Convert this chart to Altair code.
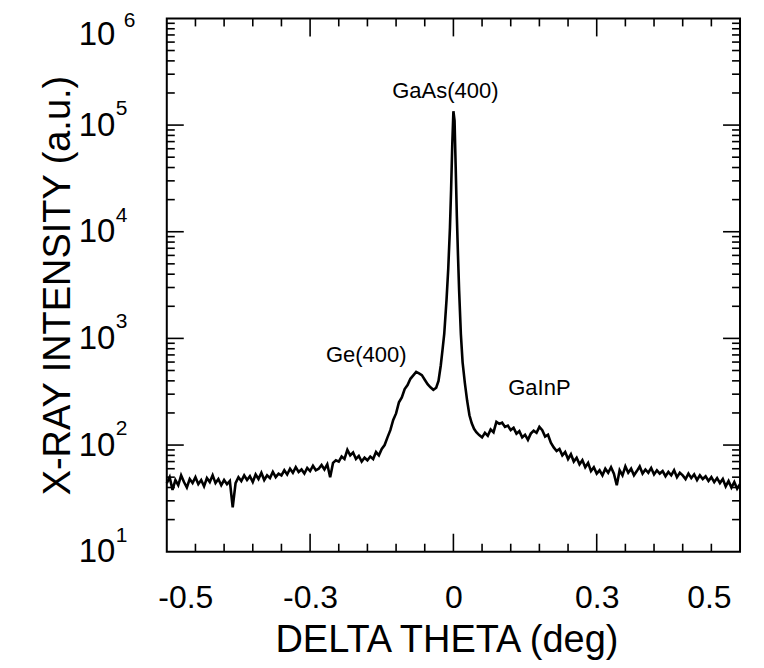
import altair as alt
import pandas as pd

# ---------------- data ----------------
theta = [
    -0.500, -0.495, -0.490, -0.485, -0.480, -0.475, -0.470, -0.465, -0.460, -0.455,
    -0.450, -0.445, -0.440, -0.435, -0.430, -0.425, -0.420, -0.415, -0.410, -0.405,
    -0.400, -0.395, -0.390, -0.385, -0.380, -0.375, -0.370, -0.365, -0.360, -0.355,
    -0.350, -0.345, -0.340, -0.335, -0.330, -0.325, -0.320, -0.315, -0.310, -0.305,
    -0.300, -0.295, -0.290, -0.285, -0.280, -0.275, -0.270, -0.265, -0.260, -0.255,
    -0.250, -0.245, -0.240, -0.235, -0.230, -0.225, -0.220, -0.215, -0.210, -0.205,
    -0.200, -0.195, -0.190, -0.185, -0.180, -0.175, -0.170, -0.165, -0.160, -0.155,
    -0.150, -0.145, -0.140, -0.135, -0.130,
    -0.125, -0.120, -0.115, -0.110, -0.105, -0.100, -0.095, -0.090, -0.085, -0.080,
    -0.075, -0.070, -0.065, -0.060, -0.055, -0.050, -0.045, -0.040, -0.035, -0.030,
    -0.026, -0.022, -0.019, -0.016, -0.012, -0.009, -0.006, -0.004, -0.002, 0.000,
    0.002, 0.004, 0.006, 0.008, 0.010, 0.013, 0.016, 0.020, 0.024, 0.028,
    0.032, 0.036, 0.040, 0.045, 0.050,
    0.055, 0.060, 0.065, 0.070, 0.075, 0.080, 0.085, 0.090, 0.095, 0.100,
    0.105, 0.110, 0.115, 0.120, 0.125, 0.130, 0.135, 0.140, 0.145, 0.150,
    0.155, 0.160, 0.165, 0.170, 0.175, 0.180, 0.185, 0.190, 0.195, 0.200,
    0.205, 0.210, 0.215, 0.220, 0.225, 0.230, 0.235, 0.240, 0.245, 0.250,
    0.255, 0.260, 0.265, 0.270, 0.275, 0.280, 0.285, 0.290, 0.295, 0.300,
    0.305, 0.310, 0.315, 0.320, 0.325, 0.330, 0.335, 0.340, 0.345, 0.350,
    0.355, 0.360, 0.365, 0.370, 0.375, 0.380, 0.385, 0.390, 0.395, 0.400,
    0.405, 0.410, 0.415, 0.420, 0.425, 0.430, 0.435, 0.440, 0.445, 0.450,
    0.455, 0.460, 0.465, 0.470, 0.475, 0.480, 0.485, 0.490, 0.495, 0.500,
]
intensity = [
    44, 50, 38, 47, 42, 52, 45, 40, 48, 44,
    50, 43, 47, 41, 49, 45, 52, 44, 48, 42,
    47, 43, 46, 26, 44, 50, 46, 52, 47, 51,
    45, 53, 48, 55, 47, 52, 49, 56, 50, 54,
    52, 58, 53, 60, 55, 62, 56, 59, 54, 61,
    57, 64, 58, 60, 65, 59, 66, 50, 68, 72,
    70, 78, 74, 90, 80, 85, 74, 79, 70, 76,
    72, 78, 74, 86, 80,
    92, 100, 118, 138, 172, 198, 252, 280, 335, 365,
    418, 450, 485, 470, 452, 410, 372, 348, 330, 345,
    400, 560, 780, 1100, 2300, 4500, 11000, 25000, 65000, 135000,
    110000, 40000, 14000, 6000, 2800, 1100, 600, 380, 260, 190,
    160, 142, 132, 124, 118,
    130, 122, 140, 132, 165, 158, 162, 148, 152, 138,
    145, 128, 135, 118, 125, 112, 128, 136, 130, 148,
    138, 120, 125, 105, 95, 88, 92, 80, 86, 74,
    82, 70, 76, 66, 72, 62, 68, 57, 62, 54,
    58, 52, 60, 55, 62, 54, 42, 58, 52, 63,
    55, 60, 52, 57, 63, 54, 59, 55, 61, 53,
    58, 54, 57, 51, 56, 52, 58, 50, 55, 52,
    48, 54, 49, 53, 47, 52, 48, 51, 46, 50,
    45, 49, 44, 48, 41, 46, 40, 45, 39, 43,
]

x_tick_values = [-0.5, -0.25, 0, 0.25, 0.5]
x_tick_labels = ["-0.5", "-0.3", "0", "0.3", "0.5"]
x_major_ticks = [-0.25, 0, 0.25]
x_minor_ticks = [-0.45, -0.40, -0.35, -0.30, -0.20, -0.15, -0.10, -0.05,
                 0.05, 0.10, 0.15, 0.20, 0.30, 0.35, 0.40, 0.45]

y_tick_values = [1e1, 1e2, 1e3, 1e4, 1e5, 1e6]
y_exponents = ["1", "2", "3", "4", "5", "6"]
y_major_ticks = [1e2, 1e3, 1e4, 1e5]
y_minor_ticks = [m * d for d in [1e1, 1e2, 1e3, 1e4, 1e5] for m in [2, 3, 4, 5, 6, 7, 8, 9]]

peak_labels = ["GaAs(400)", "Ge(400)", "GaInP"]
peak_label_theta = [-0.014, -0.152, 0.150]
peak_label_intensity = [2.1e5, 700, 344]

# ---------------- chart ----------------
W, H = 574, 534
FONT = "Liberation Sans"
MAJ, MIN = 18, 8          # inward tick lengths in pixels

xscale = alt.Scale(domain=[-0.5, 0.5], nice=False, zero=False)
yscale = alt.Scale(type="log", domain=[10, 1e6], nice=False)

df = pd.DataFrame({"theta": theta, "intensity": intensity})

label_expr_x = ("[" + ",".join(f"'{s}'" for s in x_tick_labels) + "][indexof(["
                + ",".join(str(v) for v in x_tick_values) + "], datum.value)]")

x_axis = alt.Axis(
    orient="bottom",
    values=x_tick_values, labelExpr=label_expr_x, title="DELTA THETA (deg)",
    labelFontSize=32, labelPadding=31, ticks=False, tickSize=0, domain=False, grid=False,
    labelOffset={"condition": {"test": "abs(datum.value) > 0.4", "value": -9}, "value": 0},
    titleFontSize=38, titleFontWeight="normal", titleX=280, titleY=100,
    titleBaseline="alphabetic", titleAlign="center",
)
y_axis = alt.Axis(
    orient="left",
    values=y_tick_values, labelExpr="'10'", title="X-RAY INTENSITY (a.u.)",
    labelFontSize=33, labelPadding=52, ticks=False, tickSize=0, domain=False, grid=False,
    labelBaseline={"condition": {"test": "datum.value > 500000", "value": "top"}, "value": "middle"},
    titleFontSize=38, titleFontWeight="normal", titleX=-97, titleY=H / 2, titleAngle=270,
    titleBaseline="alphabetic", titleAlign="center",
)

Xn = alt.X("theta:Q", scale=xscale, axis=None)
Yn = alt.Y("intensity:Q", scale=yscale, axis=None)

line = alt.Chart(df).mark_line(color="black", strokeWidth=2.6).encode(
    x=alt.X("theta:Q", scale=xscale, axis=x_axis),
    y=alt.Y("intensity:Q", scale=yscale, axis=y_axis),
)


def xticks(vals, length, top):
    center = length / 2 if top else H - length / 2
    return alt.Chart(pd.DataFrame({"theta": vals})).mark_tick(
        color="black", orient="vertical", thickness=1.6, size=length, opacity=1
    ).encode(x=Xn, y=alt.value(center))


def yticks(vals, length, right):
    center = W - length / 2 if right else length / 2
    return alt.Chart(pd.DataFrame({"intensity": vals})).mark_tick(
        color="black", orient="horizontal", thickness=1.6, size=length, opacity=1
    ).encode(y=Yn, x=alt.value(center))


ticks = [
    xticks(x_major_ticks, MAJ, False), xticks(x_minor_ticks, MIN, False),
    xticks(x_major_ticks, MAJ, True), xticks(x_minor_ticks, MIN, True),
    yticks(y_major_ticks, MAJ - 1, False), yticks(y_minor_ticks, MIN, False),
    yticks(y_major_ticks, MAJ - 1, True), yticks(y_minor_ticks, MIN, True),
]

exp_df = pd.DataFrame({"intensity": y_tick_values, "exp": y_exponents})
exp_low = alt.Chart(exp_df).transform_filter("datum.intensity < 500000").mark_text(
    align="left", baseline="middle", dy=-16, fontSize=21, font=FONT, color="black"
).encode(x=alt.value(-51), y=Yn, text="exp:N")
exp_top = alt.Chart(exp_df).transform_filter("datum.intensity > 500000").mark_text(
    align="left", baseline="middle", dy=3, fontSize=21, font=FONT, color="black"
).encode(x=alt.value(-43), y=Yn, text="exp:N")

lab_df = pd.DataFrame({"theta": peak_label_theta, "intensity": peak_label_intensity, "label": peak_labels})
labels = alt.Chart(lab_df).mark_text(
    align="center", baseline="middle", fontSize=22, font=FONT, color="black"
).encode(x=Xn, y=Yn, text="label:N")

chart = alt.layer(line, *ticks, exp_low, exp_top, labels).resolve_axis(
    x="independent", y="independent"
).properties(
    width=W, height=H,
    autosize=alt.AutoSizeParams(type="none"),
    padding={"left": 159, "top": 10, "right": 16, "bottom": 112},
).configure_view(
    stroke="black", strokeWidth=2
).configure_axis(
    labelFont=FONT, titleFont=FONT, labelColor="black", titleColor="black"
)

chart.save("out.html", embed_options={"renderer": "svg", "actions": False})
